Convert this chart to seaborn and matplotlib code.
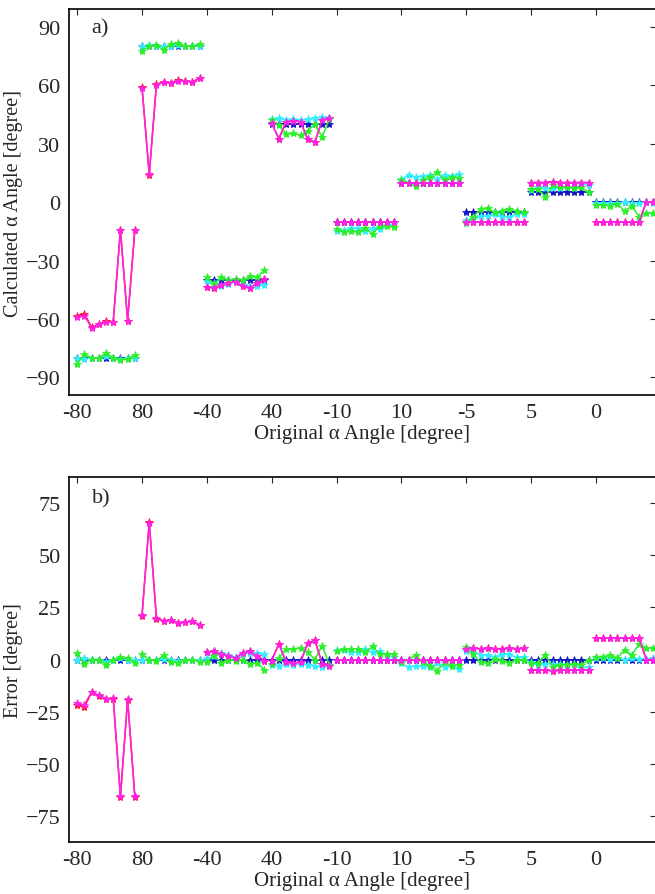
import numpy as np
import pandas as pd
import matplotlib
matplotlib.use("Agg")
import matplotlib.pyplot as plt
import seaborn as sns

# original alpha angle of each group (9 samples per group)
original = [-80, 80, -40, 40, -10, 10, -5, 5, 0]
tick_labels = ['-80', '80', '-40', '40', '-10', '10', '-5', '5', '0']
n_per = 9

# calculated angles per series, group by group
blue_calc = ([-80] * 9 + [80] * 9 + [-40] * 9 + [40] * 9 + [-10] * 9
             + [10] * 9 + [-5] * 9 + [5] * 9 + [0] * 9)

cyan_calc = [-80, -80.5, -80, -80, -79, -80, -80.5, -80, -80,
             80, 80.3, 80, 79.8, 80, 80.5, 80, 80.2, 80,
             -40.5, -41.5, -43, -42, -41, -42.5, -43.3, -43, -42.5,
             42.5, 43, 42.3, 42.5, 42, 42.5, 43, 43.5, 43.3,
             -14.7, -14.5, -13.5, -13.5, -15, -13.5, -14, -12, -11,
             11.8, 13.7, 12.9, 13.2, 13.7, 11.8, 13.7, 13.2, 14.5,
             -9, -8.5, -7.4, -7, -6.3, -7.5, -7.5, -6, -6,
             6, 7.8, 7, 7.2, 7.2, 7.5, 7.2, 9, 8.5,
             -0.5, -0.5, -0.3, -0.5, 0, -0.5, -0.3, -0.2, -0.5]

green_calc = [-83, -78, -80, -80, -77.5, -80, -81, -80.5, -78.5,
              77.4, 80, 80.5, 78, 81, 81.6, 80, 80, 81,
              -38.7, -42, -38.4, -40, -39.5, -40, -38, -38.4, -35,
              42, 39.3, 35, 35.2, 34.3, 36.5, 40, 33.3, 42.5,
              -14, -15.2, -15, -15.2, -13.5, -16.3, -12.5, -12.5, -12.8,
              11.3, 10, 8, 11.3, 12.9, 15.3, 11.3, 12.9, 12.4,
              -11, -7.5, -3.7, -3.3, -5.3, -4.5, -3.5, -4.8, -5,
              6.5, 6.5, 2.6, 8.5, 7.5, 7.5, 7, 7.5, 5,
              -1.4, -1.4, -2, -0.8, -4.7, -2, -7.6, -5.6, -5.6]

magenta_calc = [-59, -58.3, -64.5, -62.8, -61.3, -61.5, -14.5, -61, -14.5,
                58.6, 14.5, 60.2, 61.5, 61, 62.3, 62.1, 61.5, 63.4,
                -43.5, -44, -42.7, -41.6, -40.8, -43.2, -43.9, -41.6, -39.5,
                40.5, 32.4, 41.3, 41.8, 41.3, 32.1, 30.8, 42, 42.9,
                -10, -10, -10, -10, -10, -10, -10, -10, -10,
                10, 10, 10, 10, 10, 10, 10, 10, 10,
                -10.2, -10.3, -10.2, -10.3, -10.2, -10.2, -10.3, -10.2, -10.3,
                10, 10, 10, 10.5, 10, 10, 10, 10, 10,
                -10.3, -10.3, -10.3, -10.3, -10.3, -10.3, -10.3, 0, 0]

# red sits almost exactly under magenta, only the first two groups differ a bit
red_first = [-58.3, -57.3, -64.3, -62.6, -61.2, -61.3, -14.2, -60.8, -14.2,
             58.9, 14.0, 60.4, 61.6, 61.2, 62.4, 62.2, 61.6, 63.6]
red_calc = red_first + magenta_calc[18:]

series = {
    'red': (red_calc, '#ff1010'),
    'blue': (blue_calc, '#1414c8'),
    'cyan': (cyan_calc, '#33eeff'),
    'green': (green_calc, '#2cf02c'),
    'magenta': (magenta_calc, '#ff22e6'),
}

orig_all = np.repeat(original, n_per)
rows = []
for name, (vals, col) in series.items():
    for i, v in enumerate(vals):
        rows.append({'idx': i, 'group': i // n_per, 'series': name,
                     'calc': v, 'err': orig_all[i] - v})
df = pd.DataFrame(rows)

sns.set_style("white")
plt.rcParams['font.family'] = ['Liberation Serif', 'DejaVu Serif']

fig = plt.figure(figsize=(6.55, 8.95), dpi=100)
ax1 = fig.add_axes([0.105, 0.5575, 0.8965, 0.4313])
ax2 = fig.add_axes([0.105, 0.0581, 0.8965, 0.4078])

for ax, col in [(ax1, 'calc'), (ax2, 'err')]:
    for name, (vals, color) in series.items():
        sub = df[df['series'] == name]
        sns.lineplot(data=sub, x='idx', y=col, units='group', estimator=None,
                     color=color, marker='*', markersize=6,
                     markeredgecolor=color, markeredgewidth=0.6,
                     linewidth=1.1, ax=ax, legend=False)
    ax.set_xlim(-1.17, 80.35)
    ax.set_xticks(np.arange(len(original)) * n_per)
    ax.set_xticklabels(tick_labels)
    ax.tick_params(direction='in', length=4, width=0.8, labelsize=16,
                   top=True, right=True, pad=6)
    for s in ax.spines.values():
        s.set_linewidth(1.2)
        s.set_color('black')
    ax.set_xlabel('Original α Angle [degree]', fontsize=15, labelpad=1)

ax1.set_ylim(-99, 99)
ax1.set_yticks([-90, -60, -30, 0, 30, 60, 90])
ax1.set_ylabel('Calculated α Angle [degree]', fontsize=14.5, labelpad=2)
ax1.text(0.039, 0.95, 'a)', transform=ax1.transAxes, fontsize=16,
         va='center', ha='left')

ax2.set_ylim(-87.5, 87.5)
ax2.set_yticks([-75, -50, -25, 0, 25, 50, 75])
ax2.set_ylabel('Error [degree]', fontsize=14.5, labelpad=2)
ax2.text(0.039, 0.942, 'b)', transform=ax2.transAxes, fontsize=16,
         va='center', ha='left')

fig.savefig('out.png', dpi=100)
